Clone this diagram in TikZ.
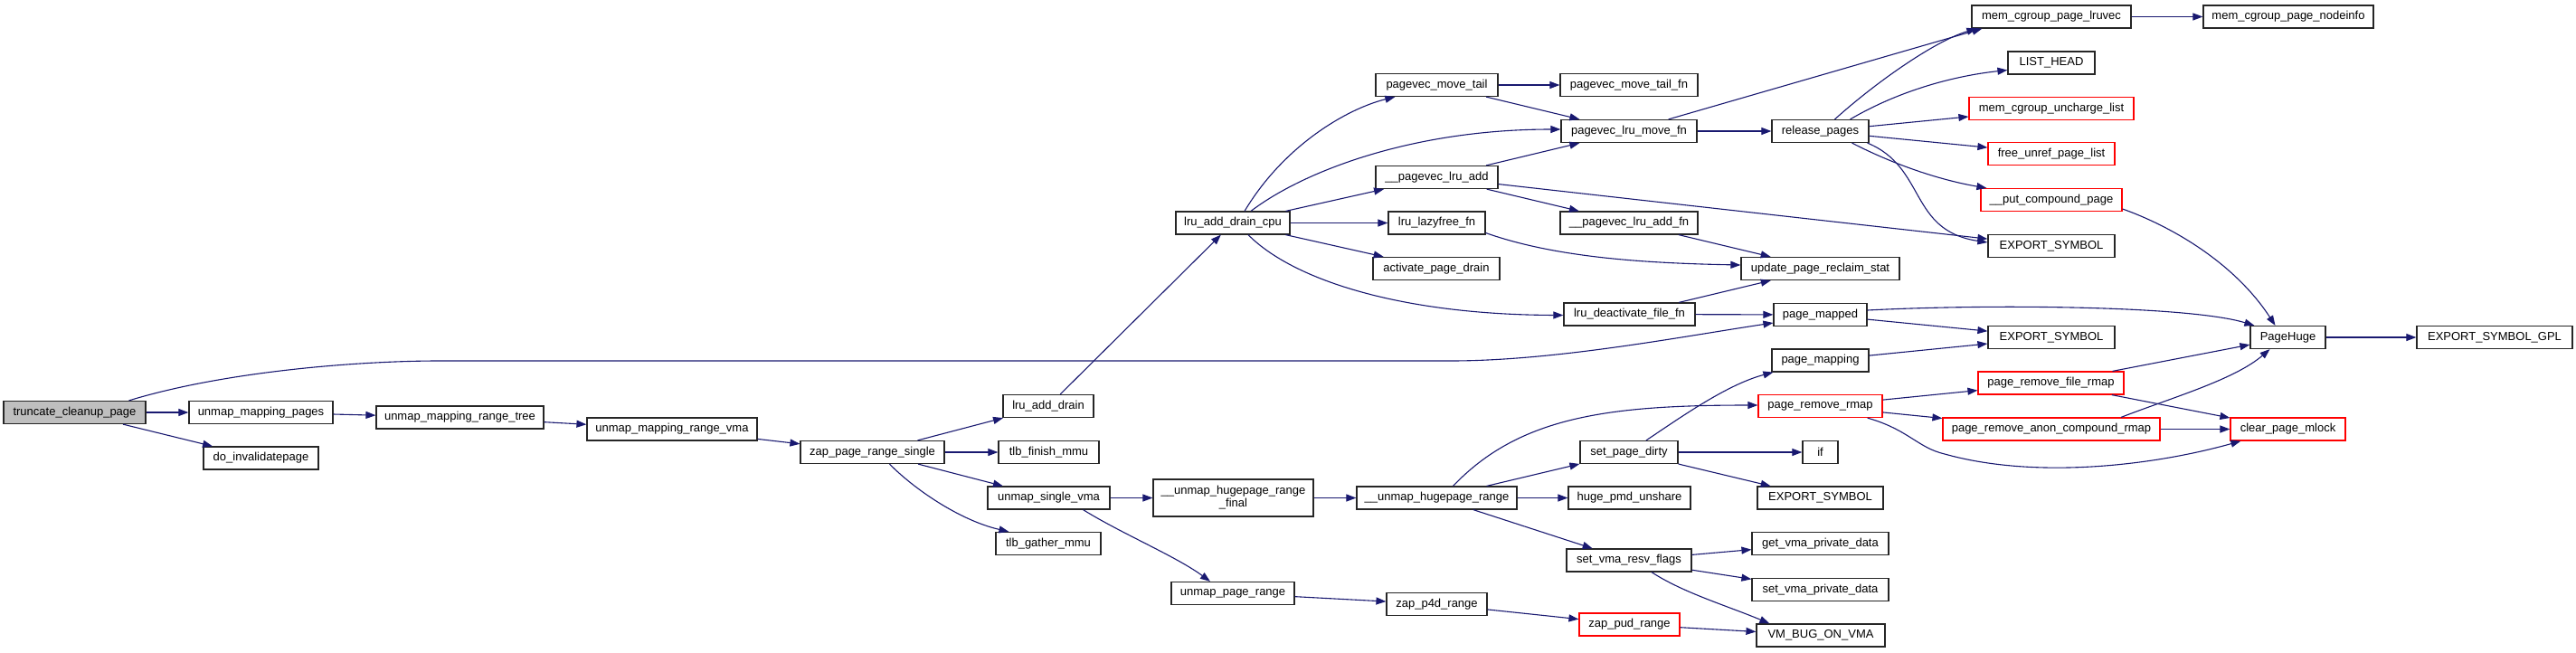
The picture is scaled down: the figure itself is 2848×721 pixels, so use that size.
\documentclass[tikz,border=0pt]{standalone}
\usepackage{fontspec}
\setmainfont{Liberation Sans}
\usetikzlibrary{arrows.meta}
\definecolor{edgeblue}{HTML}{191970}
\definecolor{rootgray}{HTML}{BFBFBF}
\definecolor{boxred}{HTML}{FF0000}
\tikzset{
  fn/.style={draw=black!85, line width=1.2pt, fill=white, minimum height=25pt, inner sep=0pt,
    font=\fontsize{13}{14}\selectfont, align=center},
  redfn/.style={fn, draw=boxred},
  rootfn/.style={fn, fill=rootgray},
  call/.style={draw=edgeblue, line width=1.1pt, -{Triangle[length=11pt,width=8pt]}, fill=none},
}
\begin{document}
\begin{tikzpicture}[x=1pt,y=1pt]
\useasboundingbox (0,0) rectangle (2848,-721);
% column 1-4
\node[rootfn, minimum width=157pt] (root) at (82.5,-456) {truncate\_cleanup\_page};
\node[fn, minimum width=159pt] (ump) at (288.5,-456) {unmap\_mapping\_pages};
\node[fn, minimum width=127pt] (doinv) at (288.5,-506.5) {do\_invalidatepage};
\node[fn, minimum width=185pt] (umrt) at (508.5,-461.5) {unmap\_mapping\_range\_tree};
\node[fn, minimum width=188pt] (umrv) at (743,-474.5) {unmap\_mapping\_range\_vma};
\node[fn, minimum width=159pt] (zprs) at (964.5,-500) {zap\_page\_range\_single};
% column 5
\node[fn, minimum width=100pt] (lad) at (1159,-449) {lru\_add\_drain};
\node[fn, minimum width=111pt] (tfm) at (1159.5,-500) {tlb\_finish\_mmu};
\node[fn, minimum width=135pt] (usv) at (1159.5,-550.5) {unmap\_single\_vma};
\node[fn, minimum width=116pt] (tgm) at (1159,-601) {tlb\_gather\_mmu};
% column 6
\node[fn, minimum width=126pt] (ladc) at (1363,-246.5) {lru\_add\_drain\_cpu};
\node[fn, minimum width=177pt, minimum height=41pt] (uhrf) at (1363.5,-550.5) {\_\_unmap\_hugepage\_range\\\_final};
\node[fn, minimum width=136pt] (upg) at (1363,-656) {unmap\_page\_range};
% column 7
\node[fn, minimum width=135pt] (pmt) at (1588.5,-94) {pagevec\_move\_tail};
\node[fn, minimum width=135pt] (plad) at (1588.5,-196) {\_\_pagevec\_lru\_add};
\node[fn, minimum width=107pt] (llf) at (1588.5,-246.5) {lru\_lazyfree\_fn};
\node[fn, minimum width=140pt] (apd) at (1588,-297) {activate\_page\_drain};
\node[fn, minimum width=177pt] (uhr) at (1588.5,-550.5) {\_\_unmap\_hugepage\_range};
\node[fn, minimum width=111pt] (zp4d) at (1588.5,-668) {zap\_p4d\_range};
% column 8
\node[fn, minimum width=152pt] (pmtf) at (1801,-94) {pagevec\_move\_tail\_fn};
\node[fn, minimum width=150pt] (plmf) at (1801,-145) {pagevec\_lru\_move\_fn};
\node[fn, minimum width=152pt] (pladf) at (1801,-246.5) {\_\_pagevec\_lru\_add\_fn};
\node[fn, minimum width=145pt] (ldff) at (1801.5,-347.5) {lru\_deactivate\_file\_fn};
\node[fn, minimum width=108pt] (spd) at (1801,-500) {set\_page\_dirty};
\node[fn, minimum width=135pt] (hpu) at (1801.5,-550.5) {huge\_pmd\_unshare};
\node[fn, minimum width=138pt] (svrf) at (1801,-619.5) {set\_vma\_resv\_flags};
\node[redfn, minimum width=111pt] (zpud) at (1801.5,-690.5) {zap\_pud\_range};
% column 9
\node[fn, minimum width=107pt] (rp) at (2012.5,-145) {release\_pages};
\node[fn, minimum width=175pt] (uprs) at (2012.5,-297) {update\_page\_reclaim\_stat};
\node[fn, minimum width=103pt] (pm) at (2012.5,-348) {page\_mapped};
\node[fn, minimum width=107pt] (pmap) at (2012.5,-398.5) {page\_mapping};
\node[redfn, minimum width=137pt] (prr) at (2012.5,-449) {page\_remove\_rmap};
\node[fn, minimum width=39pt] (iff) at (2012.5,-500) {if};
\node[fn, minimum width=139pt] (es3) at (2012.5,-550.5) {EXPORT\_SYMBOL};
\node[fn, minimum width=151pt] (gvpd) at (2012.5,-601) {get\_vma\_private\_data};
\node[fn, minimum width=151pt] (svpd) at (2012.5,-652) {set\_vma\_private\_data};
\node[fn, minimum width=142pt] (vbov) at (2013,-702.5) {VM\_BUG\_ON\_VMA};
% column 10
\node[fn, minimum width=176pt] (mcpl) at (2268,-18.5) {mem\_cgroup\_page\_lruvec};
\node[fn, minimum width=96pt] (lh) at (2268,-69.5) {LIST\_HEAD};
\node[redfn, minimum width=182pt] (mcul) at (2268,-120) {mem\_cgroup\_uncharge\_list};
\node[redfn, minimum width=140pt] (frpl) at (2268,-170) {free\_unref\_page\_list};
\node[redfn, minimum width=156pt] (pcp) at (2268,-221) {\_\_put\_compound\_page};
\node[fn, minimum width=140pt] (es1) at (2268,-272) {EXPORT\_SYMBOL};
\node[fn, minimum width=140pt] (es2) at (2268,-373) {EXPORT\_SYMBOL};
\node[redfn, minimum width=161pt] (prfr) at (2267.5,-423.5) {page\_remove\_file\_rmap};
\node[redfn, minimum width=240pt] (pracr) at (2268,-474.5) {page\_remove\_anon\_compound\_rmap};
% column 11-12
\node[fn, minimum width=188pt] (mcpn) at (2530,-18.5) {mem\_cgroup\_page\_nodeinfo};
\node[fn, minimum width=83pt] (ph) at (2529.5,-373) {PageHuge};
\node[redfn, minimum width=127pt] (cpm) at (2529.5,-474.5) {clear\_page\_mlock};
\node[fn, minimum width=172pt] (esgpl) at (2758,-373) {EXPORT\_SYMBOL\_GPL};

% edges
\draw[call] ([xshift=60pt]root.north) .. controls (250,-410) and (400,-399) .. (485,-399) -- (1604,-399) .. controls (1720,-399) and (1860,-372) .. ([yshift=-9pt]pm.west);
\draw[call] (root) -- (ump);
\draw[call] (root) -- (doinv);
\draw[call] (ump) -- (umrt);
\draw[call] (umrt) -- (umrv);
\draw[call] (umrv) -- (zprs);
\draw[call] (zprs) -- (lad);
\draw[call] (zprs) -- (tfm);
\draw[call] (zprs) -- (usv);
\draw[call] ([xshift=19pt]zprs.south) .. controls (1010,-540) and (1060,-575) .. ([xshift=15pt]tgm.north west);
\draw[call] (lad) -- (ladc);
\draw[call] ([xshift=13pt]ladc.north) .. controls (1420,-160) and (1490,-120) .. ([xshift=22pt]pmt.south west);
\draw[call] ([xshift=20pt]ladc.north) .. controls (1440,-190) and (1560,-143) .. ([yshift=2pt]plmf.west);
\draw[call] (ladc) -- (plad);
\draw[call] (ladc) -- (llf);
\draw[call] (ladc) -- (apd);
\draw[call] ([xshift=17pt]ladc.south) .. controls (1430,-310) and (1550,-348) .. ([yshift=-1pt]ldff.west);
\draw[call] (pmt) -- (pmtf);
\draw[call] (pmt) -- (plmf);
\draw[call] (plad) -- (plmf);
\draw[call] (plad) -- (pladf);
\draw[call] (plad) -- (es1);
\draw[call] ([yshift=-11pt]llf.east) .. controls (1720,-285) and (1820,-291) .. ([yshift=4pt]uprs.west);
\draw[call] (pladf) -- (uprs);
\draw[call] (ldff) -- (uprs);
\draw[call] (ldff) -- (pm);
\draw[call] ([xshift=-32pt]plmf.north east) -- ([xshift=12pt]mcpl.south west);
\draw[call] (plmf) -- (rp);
\draw[call] ([xshift=16pt]rp.north) .. controls (2075,-90) and (2140,-45) .. ([xshift=6pt]mcpl.south west);
\draw[call] ([xshift=33pt]rp.north) .. controls (2100,-100) and (2160,-84) .. ([yshift=-8pt]lh.west);
\draw[call] (rp) -- (mcul);
\draw[call] (rp) -- (frpl);
\draw[call] ([xshift=35pt]rp.south) .. controls (2100,-185) and (2150,-200) .. ([xshift=7pt]pcp.north west);
\draw[call] ([xshift=-2pt]rp.south east) .. controls (2130,-185) and (2110,-255) .. ([yshift=4pt]es1.west);
\draw[call] (mcpl) -- (mcpn);
\draw[call] ([yshift=-10pt]pcp.east) .. controls (2400,-250) and (2470,-290) .. ([xshift=-14pt]ph.north);
\draw[call] ([yshift=5pt]pm.east) .. controls (2200,-336) and (2420,-338) .. ([xshift=5pt]ph.north west);
\draw[call] (pm) -- (es2);
\draw[call] (pmap) -- (es2);
\draw[call] (ph) -- (esgpl);
\draw[call] (usv) -- (uhrf);
\draw[call] ([xshift=38pt]usv.south) .. controls (1240,-590) and (1300,-615) .. ([xshift=-25pt]upg.north);
\draw[call] (uhrf) -- (uhr);
\draw[call] ([xshift=18pt]uhr.north) .. controls (1680,-460) and (1780,-448) .. ([yshift=1pt]prr.west);
\draw[call] (uhr) -- (spd);
\draw[call] (uhr) -- (hpu);
\draw[call] (uhr) -- (svrf);
\draw[call] ([xshift=19pt]spd.north) .. controls (1860,-460) and (1910,-425) .. ([xshift=2pt]pmap.south west);
\draw[call] (spd) -- (iff);
\draw[call] (spd) -- (es3);
\draw[call] (prr) -- (prfr);
\draw[call] (prr) -- (pracr);
\draw[call] ([xshift=-17pt]prr.south east) .. controls (2110,-475) and (2120,-495) .. (2150,-502) .. controls (2250,-530) and (2380,-515) .. ([xshift=12pt]cpm.south west);
\draw[call] (prfr) -- (ph);
\draw[call] (prfr) -- (cpm);
\draw[call] ([xshift=77pt]pracr.north) .. controls (2400,-440) and (2470,-420) .. ([xshift=-20pt]ph.south);
\draw[call] (pracr) -- (cpm);
\draw[call] (svrf) -- (gvpd);
\draw[call] (svrf) -- (svpd);
\draw[call] ([xshift=25pt]svrf.south) .. controls (1860,-655) and (1910,-670) .. ([xshift=15pt]vbov.north west);
\draw[call] (upg) -- (zp4d);
\draw[call] (zp4d) -- (zpud);
\draw[call] (zpud) -- (vbov);
\end{tikzpicture}
\end{document}
